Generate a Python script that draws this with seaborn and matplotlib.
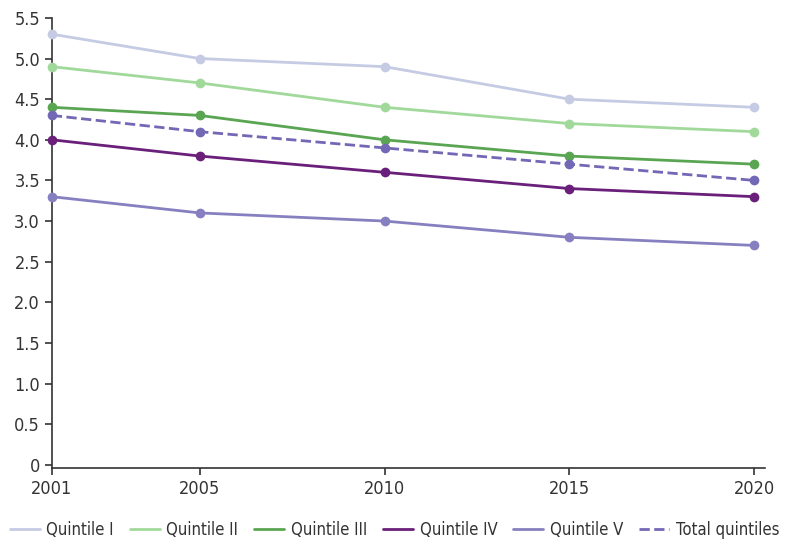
import matplotlib.pyplot as plt
import matplotlib.ticker as mticker
import numpy as np
import pandas as pd
import seaborn as sns

years = [2001, 2005, 2010, 2015, 2020]
quintile_1 = [5.3, 5.0, 4.9, 4.5, 4.4]
quintile_2 = [4.9, 4.7, 4.4, 4.2, 4.1]
quintile_3 = [4.4, 4.3, 4.0, 3.8, 3.7]
quintile_4 = [4.0, 3.8, 3.6, 3.4, 3.3]
quintile_5 = [3.3, 3.1, 3.0, 2.8, 2.7]
total = [4.3, 4.1, 3.9, 3.7, 3.5]

names = ['Quintile I', 'Quintile II', 'Quintile III', 'Quintile IV', 'Quintile V', 'Total quintiles']
colors = ['#c5cbe3', '#a1d99b', '#59a552', '#6a1f7a', '#8680c0', '#7268b5']
styles = ['-', '-', '-', '-', '-', '--']

df = pd.DataFrame({'year': years, 'Quintile I': quintile_1, 'Quintile II': quintile_2,
                   'Quintile III': quintile_3, 'Quintile IV': quintile_4,
                   'Quintile V': quintile_5, 'Total quintiles': total})
long = df.melt(id_vars='year', var_name='group', value_name='value')

sns.set_style('white')
plt.rcParams['font.family'] = ['DejaVu Sans']
plt.rcParams['font.stretch'] = 'condensed'

fig = plt.figure(figsize=(7.85, 5.43), dpi=100)
ax = fig.add_axes([0.066, 0.138, 0.909, 0.829])

for name, c, ls in zip(names, colors, styles):
    sub = long[long['group'] == name]
    sns.lineplot(data=sub, x='year', y='value', ax=ax, color=c, linestyle=ls,
                 linewidth=2.0, marker='o', markersize=7, markeredgewidth=0,
                 label=name, clip_on=False, zorder=3)

ax.set_xlim(2001, 2020.3)
ax.set_ylim(-0.04, 5.5)
ax.set_xticks(years)
ax.set_yticks(np.arange(0, 5.51, 0.5))
ax.yaxis.set_major_formatter(mticker.FuncFormatter(lambda v, p: '0' if v == 0 else f'{v:.1f}'))
ax.set_xlabel('')
ax.set_ylabel('')
for s in ['top', 'right']:
    ax.spines[s].set_visible(False)
for s in ['left', 'bottom']:
    ax.spines[s].set_color('#333333')
    ax.spines[s].set_linewidth(1.2)
ax.tick_params(axis='both', labelsize=13, colors='#333333', length=5, width=1.2,
               direction='out', left=True, bottom=True)

leg = ax.legend(loc='center left', bbox_to_anchor=(-0.059, -0.138), ncol=6, frameon=False,
                fontsize=12, handlelength=1.8, columnspacing=0.95, handletextpad=0.4,
                labelcolor='#333333', borderaxespad=0, borderpad=0)
for h in leg.legend_handles:
    h.set_marker('')

fig.savefig('out.png', dpi=100)
